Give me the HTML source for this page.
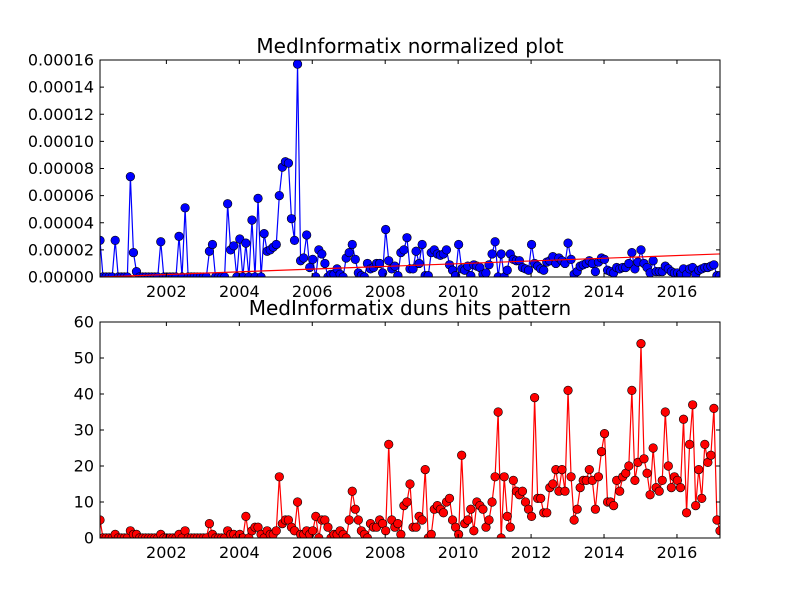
<!DOCTYPE html>
<html><head><meta charset="utf-8"><style>
html,body{margin:0;padding:0;background:#fff;}
svg{display:block;font-family:"DejaVu Sans","Liberation Sans",sans-serif;}
</style></head><body>
<svg id="fig" width="800" height="600" viewBox="0 0 800 600" xmlns="http://www.w3.org/2000/svg">
<rect x="0" y="0" width="800" height="600" fill="#fff"/>
</svg>
<script>
const startYear = 2000.18;
const monthStep = 1/12;
const xTickYears = [2002, 2004, 2006, 2008, 2010, 2012, 2014, 2016];
// normalized values, in units of 1e-5
const normValues = [
2.7,0,0,0,0,2.7,0,0,0,0,
7.4,1.8,0.4,0,0,0,0,0,0,0,
2.6,0,0,0,0,0,3.0,0,5.1,0,
0,0,0,0,0,0,1.9,2.4,0,0,
0,0,5.4,2.0,2.3,0,2.8,0,2.5,0,
4.2,0,5.8,0,3.2,1.9,2.0,2.2,2.4,6.0,
8.1,8.5,8.4,4.3,2.7,15.7,1.2,1.4,3.1,
0.7,1.3,0,2.0,1.7,1.0,0,0.2,0.2,0.6,0.2,0,1.4,1.8,2.4,1.3,0.3,0.1,0,1.0,0.6,0.7,1.0,1.0,0.3,3.5,1.2,0.6,0.8,0.1,1.8,2.0,2.9,0.6,0.6,1.9,1.0,2.4,0.1,0.1,1.8,2.0,1.7,1.6,1.7,2.0,0.9,0.5,0.1,2.4,0.6,0.5,0.8,0.1,0.9,0.8,0.7,0.2,0.3,0.9,1.7,2.6,0,1.7,0,0.5,1.7,1.3,1.2,
1.2,0.7,0.6,0.5,2.4,1.0,0.8,0.6,0.5,1.1,1.2,1.5,1.0,1.4,1.2,1.0,2.5,1.3,0.2,0.4,0.8,0.9,1.0,1.2,1.0,0.4,1.1,1.4,1.3,0.5,0.4,0.3,0.7,0.6,0.7,0.7,1.0,1.8,0.6,1.1,2.0,1.0,0.7,0.3,1.2,0.4,0.4,0.4,0.8,0.6,0.4,0.3,0.3,0.2,0.6,0.2,0.6,0.7,0.2,0.5,0.6,0.7,0.7,0.8,0.9,0.1,0.1
];
const trendValues = [0.0, 1.7];
const normTickValues = [0,2,4,6,8,10,12,14,16];
const normTickLabels = ["0.00000","0.00002","0.00004","0.00006","0.00008","0.00010","0.00012","0.00014","0.00016"];
const hitValues = [
5,0,0,0,0,1,0,0,0,0,
2,1,1,0,0,0,0,0,0,0,
1,0,0,0,0,0,1,0,2,0,
0,0,0,0,0,0,4,1,0,0,
0,0,2,1,1,0,1,0,6,0,
2,3,3,1,0,2,1,1,2,17,
4,5,5,3,2,10,1,1,2,1,
2,6,0,5,5,3,0,1,1,2,
1,0,5,13,8,5,2,1,0,4,
3,3,5,4,2,26,5,3,4,1,
9,10,15,
3,3,6,5,19,0,1,8,9,8,7,10,11,5,3,1,23,4,5,8,2,10,9,8,3,5,10,17,35,0,17,6,3,16,13,12,13,10,8,6,39,11,11,7,7,14,15,19,13,19,13,41,17,5,8,14,16,16,19,16,8,17,24,29,10,10,9,16,13,17,18,20,41,16,21,54,22,18,12,25,14,13,16,35,20,14,17,16,14,33,7,26,37,9,19,11,26,21,23,36,5,2
];
const hitTickValues = [0,10,20,30,40,50,60];

const NS = "http://www.w3.org/2000/svg";
const svg = document.getElementById('fig');
function mk(tag, attrs, parent){ const e=document.createElementNS(NS,tag); for(const k in attrs) e.setAttribute(k,attrs[k]); (parent||svg).appendChild(e); return e; }

const L=100, R=720;
const n = hitValues.length;
const tMin = startYear, tMax = startYear + (n-1)*monthStep;
const xs = t => L + (t - tMin)/(tMax - tMin)*(R-L);

function drawAxes(name, top, bottom, yMax, yTicks, yLabels, title, values, color, trend){
  const ys = v => bottom - v/yMax*(bottom-top);
  const g = mk('g',{});
  
  
  const tt = mk('text',{x:410,y:top-7,'text-anchor':'middle','font-size':'20'},g);
  tt.textContent = title;
  
  
  const pts = values.map((v,i)=>xs(tMin+i*monthStep).toFixed(2)+','+ys(v).toFixed(2)).join(' ');
  const clip = mk('clipPath',{id:name+'-clip'},g);
  mk('rect',{x:L,y:top,width:R-L,height:bottom-top},clip);
  const sg = mk('g',{'clip-path':'url(#'+name+'-clip)'},g);
  const pl = mk('polyline',{points:pts,fill:'none',stroke:color,'stroke-width':1.2},sg);
  
  
  values.forEach((v,i)=>{
    const c = mk('circle',{cx:xs(tMin+i*monthStep),cy:ys(v),r:4.3,fill:color,stroke:'#000','stroke-width':0.6},sg);
    
    
  });
  if(trend){
    const tl = mk('line',{x1:xs(tMin),y1:ys(trend[0]),x2:xs(tMax),y2:ys(trend[1]),stroke:'#f00','stroke-width':1.2},sg);
    
    
  }
  const fr = mk('rect',{x:L,y:top,width:R-L,height:bottom-top,fill:'none',stroke:'#000','stroke-width':1},g);
  
  
  yTicks.forEach((v,i)=>{
    const y = ys(v);
    mk('line',{x1:L,y1:y,x2:L+4,y2:y,stroke:'#000'},g);
    mk('line',{x1:R,y1:y,x2:R-4,y2:y,stroke:'#000'},g);
    const t = mk('text',{x:L-6,y:y+5.5,'text-anchor':'end','font-size':'16'},g);
    t.textContent = yLabels[i];
    
    
  });
  xTickYears.forEach(yr=>{
    const x = xs(yr);
    mk('line',{x1:x,y1:bottom,x2:x,y2:bottom-4,stroke:'#000'},g);
    mk('line',{x1:x,y1:top,x2:x,y2:top+4,stroke:'#000'},g);
    const t = mk('text',{x:x,y:bottom+20,'text-anchor':'middle','font-size':'16'},g);
    t.textContent = String(yr);
    
    
  });
}
drawAxes('normalized-plot', 60, 277, 16, normTickValues, normTickLabels, 'MedInformatix normalized plot', normValues, '#0000ff', trendValues);
drawAxes('hits-plot', 322, 538, 60, hitTickValues, hitTickValues.map(String), 'MedInformatix duns hits pattern', hitValues, '#ff0000', null);
</script>
</body></html>
